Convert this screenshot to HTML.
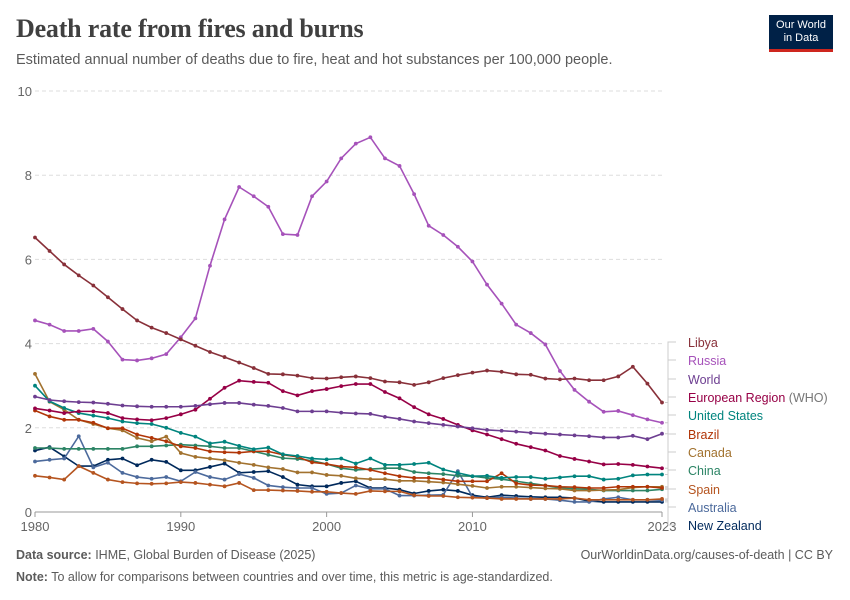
<!DOCTYPE html>
<html><head><meta charset="utf-8"><style>
body{margin:0;background:#fff;font-family:"Liberation Sans",sans-serif;}
#wrap{position:relative;width:850px;height:600px;overflow:hidden}
h1{position:absolute;left:16px;top:14px;margin:0;font-family:"Liberation Serif",serif;font-size:26px;font-weight:bold;color:#404040;letter-spacing:-0.2px}
.sub{position:absolute;left:16px;top:52px;font-size:14.5px;color:#5b5b5b}
.logo{position:absolute;left:769px;top:15px;width:64px;height:37px;background:#002147;color:#fff;font-size:11px;line-height:13px;text-align:center;padding-top:4px;box-sizing:border-box;border-bottom:3px solid #ce261e}
.foot{position:absolute;font-size:12.5px;color:#5b5b5b}
</style></head><body>
<div id="wrap">
<h1>Death rate from fires and burns</h1>
<div class="sub">Estimated annual number of deaths due to fire, heat and hot substances per 100,000 people.</div>
<div class="logo">Our World<br>in Data</div>
<svg id="chart" width="850" height="600" style="position:absolute;left:0;top:0"></svg>
<div class="foot" style="left:16px;top:548px"><b>Data source:</b> IHME, Global Burden of Disease (2025)</div>
<div class="foot" style="right:17px;top:548px">OurWorldinData.org/causes-of-death | CC BY</div>
<div class="foot" style="left:16px;top:570px"><b>Note:</b> To allow for comparisons between countries and over time, this metric is age-standardized.</div>
</div>
<script>
const years=[];for(let y=1980;y<=2023;y++)years.push(y);
const yTicks=[0,2,4,6,8,10];
const xTicks=[1980,1990,2000,2010,2023];
const seriesNames=["Libya","Russia","World","European Region","United States","Brazil","Canada","China","Spain","Australia","New Zealand"];
const seriesColors=["#883039","#a652ba","#6d3e91","#970046","#00847e","#b13507","#a2722f","#2c8465","#b5541f","#4c6a9c","#00295b"];
const libya=[6.52,6.2,5.88,5.62,5.38,5.1,4.82,4.55,4.38,4.25,4.1,3.95,3.8,3.68,3.55,3.42,3.28,3.27,3.24,3.18,3.17,3.2,3.22,3.18,3.1,3.08,3.02,3.08,3.18,3.25,3.31,3.36,3.33,3.27,3.26,3.17,3.15,3.17,3.13,3.13,3.22,3.45,3.05,2.6];
const russia=[4.55,4.45,4.3,4.3,4.35,4.05,3.62,3.6,3.65,3.75,4.15,4.6,5.85,6.95,7.72,7.5,7.25,6.6,6.58,7.5,7.85,8.4,8.75,8.9,8.4,8.22,7.55,6.8,6.58,6.3,5.95,5.4,4.95,4.45,4.25,3.98,3.35,2.9,2.62,2.38,2.4,2.3,2.2,2.12];
const world=[2.74,2.66,2.63,2.61,2.6,2.57,2.53,2.51,2.5,2.5,2.5,2.52,2.56,2.59,2.59,2.55,2.52,2.47,2.39,2.39,2.39,2.36,2.34,2.33,2.26,2.21,2.15,2.11,2.07,2.03,1.99,1.95,1.93,1.91,1.88,1.86,1.84,1.82,1.8,1.77,1.77,1.81,1.73,1.86];
const europe=[2.46,2.41,2.35,2.39,2.39,2.35,2.23,2.2,2.18,2.23,2.32,2.43,2.69,2.95,3.12,3.09,3.07,2.87,2.77,2.87,2.92,2.99,3.04,3.04,2.85,2.7,2.49,2.32,2.21,2.07,1.94,1.84,1.73,1.62,1.54,1.46,1.33,1.26,1.2,1.13,1.14,1.12,1.08,1.04];
const usa=[3.0,2.63,2.47,2.35,2.29,2.23,2.15,2.11,2.09,2.0,1.88,1.79,1.63,1.67,1.57,1.49,1.53,1.37,1.33,1.27,1.25,1.27,1.15,1.27,1.12,1.12,1.14,1.17,1.01,0.93,0.85,0.86,0.81,0.83,0.83,0.79,0.82,0.85,0.85,0.77,0.79,0.87,0.89,0.89];
const brazil=[2.41,2.27,2.19,2.19,2.12,1.99,1.99,1.84,1.76,1.68,1.56,1.52,1.44,1.42,1.41,1.44,1.44,1.36,1.31,1.18,1.14,1.08,1.06,1.0,0.92,0.85,0.81,0.81,0.77,0.73,0.73,0.73,0.92,0.68,0.64,0.63,0.6,0.59,0.57,0.57,0.6,0.6,0.6,0.57];
const canada=[3.28,2.62,2.43,2.19,2.09,1.99,1.94,1.76,1.68,1.79,1.4,1.31,1.27,1.23,1.17,1.12,1.06,1.02,0.94,0.94,0.88,0.86,0.8,0.78,0.78,0.74,0.74,0.72,0.7,0.66,0.62,0.57,0.6,0.6,0.58,0.56,0.55,0.51,0.51,0.52,0.53,0.58,0.6,0.6];
const china=[1.52,1.52,1.5,1.5,1.5,1.5,1.5,1.56,1.56,1.58,1.6,1.58,1.56,1.52,1.52,1.44,1.36,1.28,1.26,1.22,1.14,1.04,1.0,1.02,1.04,1.04,0.95,0.92,0.9,0.86,0.85,0.81,0.78,0.73,0.68,0.63,0.57,0.55,0.54,0.51,0.51,0.51,0.51,0.54];
const spain=[0.86,0.82,0.77,1.09,0.93,0.77,0.71,0.68,0.67,0.68,0.71,0.69,0.65,0.61,0.69,0.52,0.52,0.51,0.5,0.48,0.48,0.45,0.43,0.5,0.49,0.49,0.4,0.38,0.38,0.35,0.34,0.33,0.31,0.31,0.31,0.31,0.31,0.33,0.29,0.29,0.29,0.29,0.29,0.31];
const australia=[1.2,1.24,1.27,1.8,1.06,1.17,0.93,0.83,0.79,0.83,0.73,0.95,0.83,0.77,0.9,0.81,0.63,0.59,0.57,0.57,0.43,0.45,0.63,0.55,0.55,0.39,0.39,0.4,0.41,0.97,0.36,0.33,0.35,0.33,0.31,0.31,0.28,0.24,0.24,0.31,0.35,0.29,0.29,0.28];
const nz=[1.46,1.54,1.32,1.09,1.09,1.24,1.27,1.11,1.24,1.19,0.99,0.99,1.07,1.15,0.93,0.95,0.97,0.83,0.65,0.61,0.61,0.69,0.73,0.57,0.57,0.53,0.44,0.5,0.53,0.5,0.4,0.35,0.4,0.38,0.36,0.35,0.35,0.33,0.26,0.24,0.24,0.24,0.24,0.24];
const seriesValues=[libya,russia,world,europe,usa,brazil,canada,china,spain,australia,nz];
const labelY=[347,365,384,402,420,439,457,475,494,512,530];

const NS="http://www.w3.org/2000/svg",svg=document.getElementById('chart');
const X0=35,X1=662,Y0=512,Y1=91;
const xS=y=>X0+(y-1980)/(2023-1980)*(X1-X0);
const yS=v=>Y0-v/10*(Y0-Y1);
function mk(t,a,p){const e=document.createElementNS(NS,t);for(const k in a)e.setAttribute(k,a[k]);(p||svg).appendChild(e);return e;}
yTicks.forEach(t=>{
  const l=mk('line',{x1:X0,x2:X1,y1:yS(t),y2:yS(t),stroke:t===0?'#999':'#ddd','stroke-dasharray':t===0?'':'4,3'});
  
  
  const tx=mk('text',{x:32,y:yS(t)+5,'text-anchor':'end','font-size':13,fill:'#666','font-family':'Liberation Sans'});tx.textContent=t;
  
  
});
xTicks.forEach(t=>{
  const l=mk('line',{x1:xS(t),x2:xS(t),y1:Y0,y2:Y0+5,stroke:'#999'});
  
  
  const tx=mk('text',{x:xS(t),y:Y0+19,'text-anchor':'middle','font-size':13,fill:'#666','font-family':'Liberation Sans'});tx.textContent=t;
  
  
});
for(let i=seriesValues.length-1;i>=0;i--){
  const vals=seriesValues[i],c=seriesColors[i];
  const g=mk('g',{});
  
  
  mk('polyline',{points:vals.map((v,j)=>xS(years[j])+','+yS(v)).join(' '),fill:'none',stroke:c,'stroke-width':1.6},g);
  vals.forEach((v,j)=>{const d=mk('circle',{cx:xS(years[j]),cy:yS(v),r:1.9,fill:c},g);
    
    });
  const ey=yS(vals[vals.length-1]);
  const ld=mk('path',{d:`M${X1+3},${ey} H668 V${labelY[i]-5} H676`,fill:'none',stroke:'#ccc','stroke-width':1});
  
  
  const tx=mk('text',{x:688,y:labelY[i],'font-size':12.5,fill:c,'font-family':'Liberation Sans'});
  tx.textContent=seriesNames[i]==="European Region"?"European Region ":seriesNames[i];
  if(seriesNames[i]==="European Region"){const s=mk('tspan',{fill:'#777'},tx);s.textContent="(WHO)";}
  
  
}
</script>
</body></html>
